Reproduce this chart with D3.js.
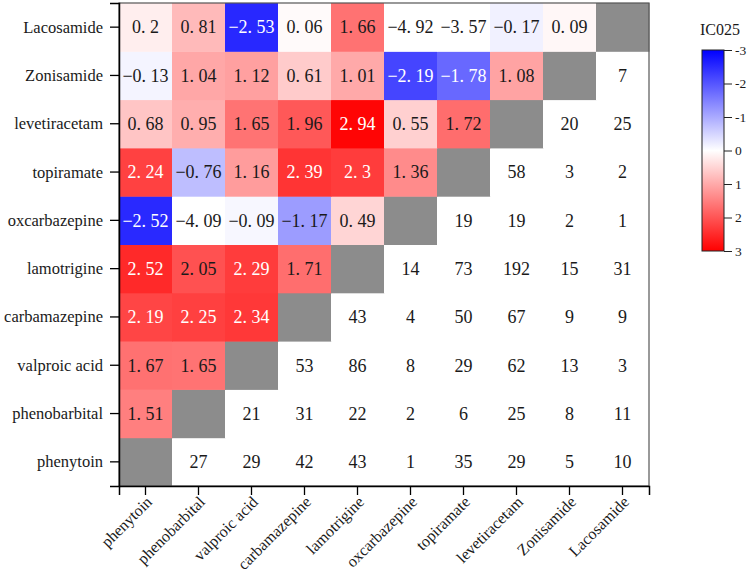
<!DOCTYPE html>
<meta charset="utf-8">
<style>
body { margin: 0; background: #fff; }
text { font-family: "Liberation Serif", "Times New Roman", serif; fill: #1a1a1a; }
</style>
<body>
<script src="https://d3js.org/d3.v7.min.js"></script>
<script>

// drug order along the x axis (bottom to top on y)
var drugs = ["phenytoin", "phenobarbital", "valproic acid", "carbamazepine", "lamotrigine",
             "oxcarbazepine", "topiramate", "levetiracetam", "Zonisamide", "Lacosamide"];

// IC025 values, row i holds columns 0..i-1 (below the diagonal)
var ic025 = [
    [],
    [1.51],
    [1.67, 1.65],
    [2.19, 2.25, 2.34],
    [2.52, 2.05, 2.29, 1.71],
    [-2.52, -4.09, -0.09, -1.17, 0.49],
    [2.24, -0.76, 1.16, 2.39, 2.3, 1.36],
    [0.68, 0.95, 1.65, 1.96, 2.94, 0.55, 1.72],
    [-0.13, 1.04, 1.12, 0.61, 1.01, -2.19, -1.78, 1.08],
    [0.2, 0.81, -2.53, 0.06, 1.66, -4.92, -3.57, -0.17, 0.09]
];

// counts, row i holds columns i+1..9 (above the diagonal)
var counts = [
    [27, 29, 42, 43, 1, 35, 29, 5, 10],
    [21, 31, 22, 2, 6, 25, 8, 11],
    [53, 86, 8, 29, 62, 13, 3],
    [43, 4, 50, 67, 9, 9],
    [14, 73, 192, 15, 31],
    [19, 19, 2, 1],
    [58, 3, 2],
    [20, 25],
    [7],
    []
];

var legendTicks = [-3, -2, -1, 0, 1, 2, 3];

var w = 754, h = 574;
var margin = {top: 3, left: 119},
    width = 530,
    height = 483;

var svg = d3.select("body").append("svg")
    .attr("width", w)
    .attr("height", h);

var x = d3.scaleBand().domain(drugs).range([margin.left, margin.left + width]);
var y = d3.scaleBand().domain(drugs.slice().reverse()).range([margin.top, margin.top + height]);

var color = d3.scaleLinear()
    .domain([-3, 0, 3])
    .range(["#0000ff", "#ffffff", "#ff0000"]);

function fillFor(v) {
    // values outside the colour range show up as blank cells
    if (v < -3 || v > 3) return "#ffffff";
    return color(v);
}

// build cell list
var cells = [];
drugs.forEach(function(rowDrug, i) {
    drugs.forEach(function(colDrug, j) {
        if (j < i) cells.push({row: rowDrug, col: colDrug, kind: "ic", v: ic025[i][j]});
        else if (j == i) cells.push({row: rowDrug, col: colDrug, kind: "diag"});
        else cells.push({row: rowDrug, col: colDrug, kind: "n", v: counts[i][j - i - 1]});
    });
});

svg.selectAll("rect.cell")
    .data(cells)
    .enter()
    .append("rect")
    .attr("class", "cell")
    .attr("x", function(d) { return x(d.col); })
    .attr("y", function(d) { return y(d.row); })
    .attr("width", x.bandwidth() + 0.5)
    .attr("height", y.bandwidth() + 0.5)
    .attr("fill", function(d) {
        if (d.kind == "diag") return "#8c8c8c";
        if (d.kind == "n") return "#ffffff";
        return fillFor(d.v);
    });

function textColor(d) {
    if (d.kind != "ic") return "#1a1a1a";
    var c = d3.rgb(fillFor(d.v));
    var lum = 0.299 * c.r + 0.587 * c.g + 0.114 * c.b;
    return lum < 128 ? "#ffffff" : "#1a1a1a";
}

var labels = svg.selectAll("text.val")
    .data(cells.filter(function(d) { return d.kind != "diag"; }))
    .enter()
    .append("text")
    .attr("class", "val")
    .attr("x", function(d) { return x(d.col) + x.bandwidth() / 2; })
    .attr("y", function(d) { return y(d.row) + y.bandwidth() / 2; })
    .attr("dy", "0.35em")
    .attr("text-anchor", "middle")
    .style("font-size", "18px")
    .style("fill", textColor);

// decimals are drawn with a wide gap after the point, like the original
labels.each(function(d) {
    var t = d3.select(this);
    if (d.kind == "n") { t.text(d.v); return; }
    var s = String(d.v).replace("-", "\u2212");
    var parts = s.split(".");
    t.append("tspan").text(parts[0] + ".");
    if (parts.length > 1) t.append("tspan").attr("dx", 4.5).text(parts[1]);
});

// frame
svg.append("rect")
    .attr("x", margin.left)
    .attr("y", margin.top)
    .attr("width", width)
    .attr("height", height)
    .attr("fill", "none")
    .attr("stroke", "#555")
    .attr("stroke-width", 1.2);

// axes
var yAxis = svg.append("g")
    .attr("transform", "translate(" + margin.left + ",0)")
    .call(d3.axisLeft(y).tickSize(9).tickPadding(7));
yAxis.select(".domain").attr("stroke", "#000").attr("stroke-width", 1.5);
yAxis.selectAll(".tick line").attr("stroke", "#000").attr("stroke-width", 1.3);
yAxis.selectAll(".tick text")
    .attr("dy", "0.33em")
    .style("font-size", "16.5px")
    .style("font-family", "Liberation Serif, serif")
    .attr("fill", "#1a1a1a");

var xAxis = svg.append("g")
    .attr("transform", "translate(0," + (margin.top + height) + ")")
    .call(d3.axisBottom(x).tickSize(9));
xAxis.select(".domain").attr("stroke", "#000").attr("stroke-width", 1.5);
xAxis.selectAll(".tick line").attr("stroke", "#000").attr("stroke-width", 1.3);
xAxis.selectAll(".tick text")
    .attr("y", 0)
    .attr("dy", "0.35em")
    .attr("text-anchor", "end")
    .attr("transform", "translate(3.5,13) rotate(-45)")
    .style("font-size", "16px")
    .style("font-family", "Liberation Serif, serif")
    .attr("fill", "#1a1a1a");

// colour bar legend
var lg = {x: 702, y: 50, w: 22, h: 201};

var defs = svg.append("defs");
var grad = defs.append("linearGradient")
    .attr("id", "ramp")
    .attr("x1", 0).attr("y1", 0).attr("x2", 0).attr("y2", 1);
grad.selectAll("stop")
    .data([-3, 0, 3])
    .enter()
    .append("stop")
    .attr("offset", function(d) { return ((d + 3) / 6 * 100) + "%"; })
    .attr("stop-color", function(d) { return color(d); });

svg.append("rect")
    .attr("x", lg.x)
    .attr("y", lg.y)
    .attr("width", lg.w)
    .attr("height", lg.h)
    .attr("fill", "url(#ramp)")
    .attr("stroke", "#222")
    .attr("stroke-width", 1);

var ly = d3.scaleLinear().domain([-3, 3]).range([lg.y, lg.y + lg.h]);

var legAxis = svg.append("g")
    .attr("transform", "translate(" + (lg.x + lg.w) + ",0)")
    .call(d3.axisRight(ly).tickValues(legendTicks).tickSize(8).tickPadding(3)
        .tickFormat(function(d) { return String(d); }));
legAxis.select(".domain").remove();
legAxis.selectAll(".tick line").attr("stroke", "#222");
legAxis.selectAll(".tick text")
    .style("font-size", "13.5px")
    .style("font-family", "Liberation Serif, serif")
    .attr("fill", "#1a1a1a");

svg.append("text")
    .attr("x", 720)
    .attr("y", 35)
    .attr("text-anchor", "middle")
    .style("font-size", "16px")
    .text("IC025");

</script>
</body>
